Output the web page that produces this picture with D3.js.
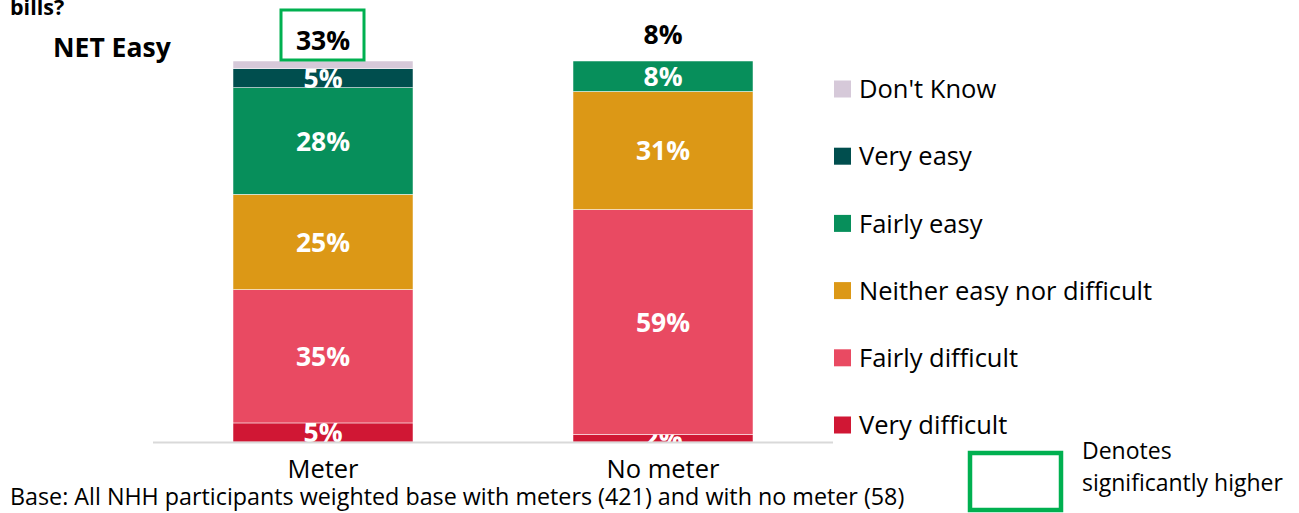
<!DOCTYPE html>
<html>
<head>
<meta charset="utf-8">
<script src="https://cdn.jsdelivr.net/npm/d3@7"></script>
<style>
  body { margin: 0; background: #fff; }
  svg { display: block; font-family: "Open Sans", sans-serif; }
</style>
</head>
<body>
<svg id="chart" width="1299" height="513"></svg>
<script>
// data
const groups = ["Meter", "No meter"];
const series = ["Very difficult", "Fairly difficult", "Neither easy nor difficult", "Fairly easy", "Very easy", "Don't Know"];
const colors = ["#d01734", "#e94a62", "#dc9816", "#078f5b", "#004e4e", "#d6c9d9"];
const values = {
    "Meter":    [5, 35, 25, 28, 5, 2],
    "No meter": [2, 59, 31, 8, 0, 0]
};
const netEasy = [33, 8];
const sigHigher = [true, false];

const svg = d3.select("#chart");

const x = d3.scaleBand()
    .domain(groups)
    .range([153, 833])
    .paddingInner(1 - 180 / 340)
    .paddingOuter((1 - 180 / 340) / 2);

const y = d3.scaleLinear()
    .domain([0, 100])
    .range([442, 61]);

const color = d3.scaleOrdinal().domain(series).range(colors);

// clip so labels stay inside the plot area
svg.append("defs").append("clipPath")
    .attr("id", "plot-clip")
    .append("rect")
    .attr("x", 153).attr("y", y(100))
    .attr("width", 680).attr("height", y(0) - y(100));

// stack
const rows = groups.map(g => {
    const r = { group: g };
    series.forEach((s, i) => r[s] = values[g][i]);
    return r;
});
const stacked = d3.stack().keys(series)(rows);

const layer = svg.selectAll(".layer")
    .data(stacked)
    .enter().append("g")
    .attr("class", "layer")
    .attr("fill", d => color(d.key));

layer.selectAll("rect")
    .data(d => d.map(p => ({ key: d.key, p })))
    .enter().append("rect")
    .attr("x", d => x(d.p.data.group))
    .attr("y", d => y(d.p[1]))
    .attr("width", x.bandwidth())
    .attr("height", d => y(d.p[0]) - y(d.p[1]))
    .attr("stroke", "#fff")
    .attr("stroke-width", 0.5);

// segment labels
layer.append("g")
    .attr("clip-path", "url(#plot-clip)")
    .selectAll("text")
    .data(d => d.map(p => ({ key: d.key, p })).filter(d => d.key !== "Don't Know" && d.p[1] - d.p[0] > 0))
    .enter().append("text")
    .attr("x", d => x(d.p.data.group) + x.bandwidth() / 2)
    .attr("y", d => (y(d.p[0]) + y(d.p[1])) / 2)
    .attr("dy", "0.36em")
    .attr("text-anchor", "middle")
    .attr("fill", "#fff")
    .style("font-weight", "bold")
    .style("font-size", "26.5px")
    .text(d => `${d.p[1] - d.p[0]}%`);

// axis line
svg.append("line")
    .attr("x1", 153).attr("x2", 833)
    .attr("y1", 442.5).attr("y2", 442.5)
    .attr("stroke", "#d9d9d9")
    .attr("stroke-width", 2);

// category labels
svg.selectAll(".xlab")
    .data(groups)
    .enter().append("text")
    .attr("class", "xlab")
    .attr("x", d => x(d) + x.bandwidth() / 2)
    .attr("y", 478)
    .attr("text-anchor", "middle")
    .style("font-size", "25.5px")
    .attr("fill", "#000")
    .text(d => d);

// NET easy
svg.append("text")
    .attr("x", 53).attr("y", 57)
    .style("font-size", "26.5px").style("font-weight", "bold")
    .text("NET Easy");

svg.selectAll(".net")
    .data(groups)
    .enter().append("text")
    .attr("class", "net")
    .attr("x", d => x(d) + x.bandwidth() / 2)
    .attr("y", (d, i) => sigHigher[i] ? 40 : 34)
    .attr("dy", "0.36em")
    .attr("text-anchor", "middle")
    .style("font-size", "26.5px").style("font-weight", "bold")
    .text((d, i) => `${netEasy[i]}%`);

svg.selectAll(".sig")
    .data(groups.filter((d, i) => sigHigher[i]))
    .enter().append("rect")
    .attr("class", "sig")
    .attr("x", d => x(d) + x.bandwidth() / 2 - 42)
    .attr("y", 10)
    .attr("width", 83)
    .attr("height", 50)
    .attr("fill", "none")
    .attr("stroke", "#00b050")
    .attr("stroke-width", 3);

// question fragment (cut off at the top, as in the source slide)
svg.append("text")
    .attr("x", 10).attr("y", 15)
    .style("font-size", "21.5px").style("font-weight", "bold")
    .text("bills?");

// legend
const legend = svg.append("g")
    .attr("transform", "translate(834,89)");

const legendItems = series.slice().reverse();

legend.selectAll("rect")
    .data(legendItems)
    .enter().append("rect")
    .attr("x", 0)
    .attr("y", (d, i) => i * 67.2 - 8.5)
    .attr("width", 17)
    .attr("height", 17)
    .attr("fill", d => color(d));

legend.selectAll("text")
    .data(legendItems)
    .enter().append("text")
    .attr("x", 25)
    .attr("y", (d, i) => i * 67.2)
    .attr("dy", "0.36em")
    .style("font-size", "25.5px")
    .text(d => d);

// significance key
svg.append("rect")
    .attr("x", 970).attr("y", 453)
    .attr("width", 91).attr("height", 57)
    .attr("fill", "none")
    .attr("stroke", "#00b050")
    .attr("stroke-width", 4.5);

svg.append("text")
    .attr("x", 1082).attr("y", 459)
    .style("font-size", "23px")
    .text("Denotes");
svg.append("text")
    .attr("x", 1082).attr("y", 491)
    .style("font-size", "23px")
    .text("significantly higher");

// base note
svg.append("text")
    .attr("x", 10).attr("y", 505)
    .style("font-size", "23.3px")
    .text("Base: All NHH participants weighted base with meters (421) and with no meter (58)");
</script>
</body>
</html>
